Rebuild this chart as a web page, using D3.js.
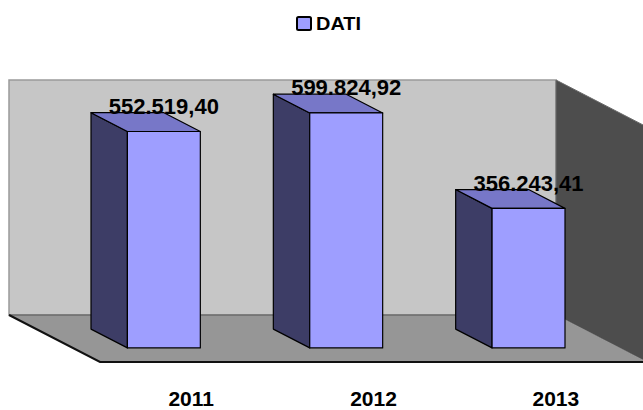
<!DOCTYPE html>
<html>
<head>
<meta charset="utf-8">
<script src="https://cdn.jsdelivr.net/npm/d3@7"></script>
<style>
  html, body { margin: 0; padding: 0; background: #ffffff; }
  svg { display: block; }
  text { font-family: "Liberation Sans", Arial, sans-serif; font-weight: bold; fill: #000; }
</style>
</head>
<body>
<svg id="chart" width="643" height="410"></svg>
<script>
// Data
const categories = ["2011", "2012", "2013"];
const values = [552519.40, 599824.92, 356243.41];
const seriesName = "DATI";
const axisMax = 600000;

const W = 643, H = 410;
const svg = d3.select("#chart");

// Plot box in the back plane, plus oblique depth vector
const wallLeft = 9, wallRight = 556, baseY = 315;
const depthX = 91, depthY = 47;          // offset from back (z=0) to front (z=1)
const barZ0 = 0.3, barZ1 = 0.7;          // bar depth span

const x = d3.scaleBand().domain(categories).range([wallLeft, wallRight])
  .paddingInner(0.6).paddingOuter(0.3);
const y = d3.scaleLinear().domain([0, axisMax]).range([baseY, 80]);

const proj = (px, py, z) => [px + depthX * z, py + depthY * z];
const poly = pts => pts.map(p => p.join(",")).join(" ");

const itFmt = d3.formatLocale({ decimal: ",", thousands: ".", grouping: [3], currency: ["€", ""] })
  .format(",.2f");

// Back wall
const wallTop = y(axisMax);
svg.append("polygon")
  .attr("points", poly([[wallLeft, wallTop], [wallRight, wallTop], [wallRight, baseY], [wallLeft, baseY]]))
  .attr("fill", "#c6c6c6").attr("stroke", "#9a9a9a").attr("stroke-width", 1.5);

// Right side wall
svg.append("polygon")
  .attr("points", poly([[wallRight, wallTop], proj(wallRight, wallTop, 1), proj(wallRight, baseY, 1), [wallRight, baseY]]))
  .attr("fill", "#4d4d4d").attr("stroke", "#6a6a6a").attr("stroke-width", 1);

// Floor
svg.append("polygon")
  .attr("points", poly([[wallLeft, baseY], [wallRight, baseY], proj(wallRight, baseY, 1), proj(wallLeft, baseY, 1)]))
  .attr("fill", "#969696").attr("stroke", "none");
// floor edges
svg.append("line")
  .attr("x1", wallLeft).attr("y1", baseY).attr("x2", wallRight).attr("y2", baseY)
  .attr("stroke", "#555").attr("stroke-width", 1);
svg.append("polyline")
  .attr("points", poly([[wallLeft, baseY], proj(wallLeft, baseY, 1), proj(wallRight, baseY, 1)]))
  .attr("fill", "none").attr("stroke", "#111").attr("stroke-width", 2);

// Bars
const bars = svg.append("g");
categories.forEach((c, i) => {
  const v = values[i];
  const x0 = x(c), x1 = x(c) + x.bandwidth();
  const yt = y(v), yb = y(0);
  const g = bars.append("g");
  // left side face
  g.append("polygon")
    .attr("points", poly([proj(x0, yt, barZ0), proj(x0, yt, barZ1), proj(x0, yb, barZ1), proj(x0, yb, barZ0)]))
    .attr("fill", "#3d3d66").attr("stroke", "#000").attr("stroke-width", 1.2).attr("stroke-linejoin", "round");
  // top face
  g.append("polygon")
    .attr("points", poly([proj(x0, yt, barZ0), proj(x1, yt, barZ0), proj(x1, yt, barZ1), proj(x0, yt, barZ1)]))
    .attr("fill", "#7777c8").attr("stroke", "#000").attr("stroke-width", 1.2).attr("stroke-linejoin", "round");
  // front face
  g.append("polygon")
    .attr("points", poly([proj(x0, yt, barZ1), proj(x1, yt, barZ1), proj(x1, yb, barZ1), proj(x0, yb, barZ1)]))
    .attr("fill", "#9e9eff").attr("stroke", "#000").attr("stroke-width", 1.2).attr("stroke-linejoin", "round");
});

// Value labels
categories.forEach((c, i) => {
  const v = values[i];
  const cx = x(c) + x.bandwidth() / 2 + depthX * barZ1;
  const by = y(v) + depthY * barZ0 + 1;
  svg.append("text")
    .attr("x", cx).attr("y", by)
    .attr("text-anchor", "middle")
    .attr("font-size", 22)
    .text(itFmt(v));
});

// Category labels along the front edge of the floor
categories.forEach(c => {
  svg.append("text")
    .attr("x", x(c) + x.bandwidth() / 2 + depthX)
    .attr("y", 405.5)
    .attr("text-anchor", "middle")
    .attr("font-size", 21)
    .text(c);
});

// Legend
const lg = svg.append("g");
lg.append("rect")
  .attr("x", 297).attr("y", 17).attr("width", 14).attr("height", 13).attr("rx", 1.5)
  .attr("fill", "#9e9eff").attr("stroke", "#000").attr("stroke-width", 2);
lg.append("text")
  .attr("x", 316).attr("y", 29.5)
  .attr("font-size", 18)
  .attr("textLength", 45).attr("lengthAdjust", "spacingAndGlyphs")
  .text(seriesName);
</script>
</body>
</html>
